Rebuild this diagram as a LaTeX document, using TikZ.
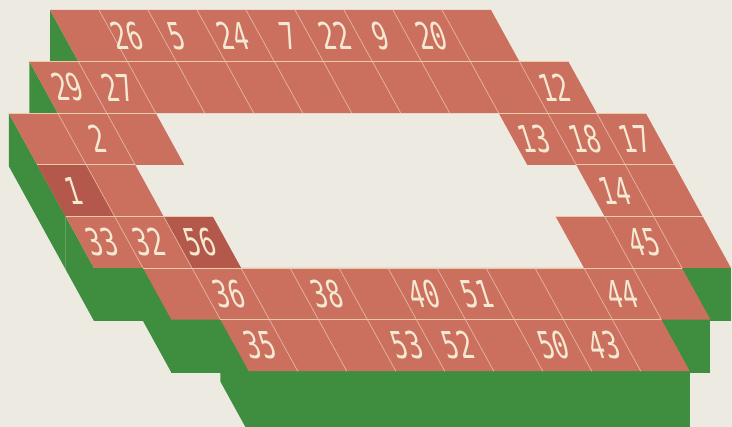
\documentclass[tikz,border=0pt]{standalone}
\usepackage{fontspec}
\newfontfamily\digitfont{DejaVu Sans Mono}
\definecolor{paper}{HTML}{EDEAE1}
\definecolor{tile}{HTML}{CB705F}
\definecolor{tiledark}{HTML}{B3584A}
\definecolor{grass}{HTML}{3F8D3F}
\definecolor{seamcol}{HTML}{E6B4A3}
\definecolor{edgecol}{HTML}{EDCBA6}
\definecolor{digitcol}{HTML}{F5E9D2}
% grid: x = 50 + 49*c + 28.4*r ; y = 10 + 51.6*r
\newcommand\segcoords[3]{%
  \pgfmathsetmacro\sxa{50+49*(#1)+28.4*(#3)}%
  \pgfmathsetmacro\sxb{50+49*((#2)+1)+28.4*(#3)}%
  \pgfmathsetmacro\sya{10+51.6*(#3)}%
  \pgfmathsetmacro\syb{10+51.6*((#3)+1)}%
}
\newcommand\leftface[3]{\segcoords{#1}{#1}{#2}%
  \fill[greenface] (\sxa,\sya) -- (\sxa+28.4,\syb) -- (\sxa+28.4,\syb+#3) -- (\sxa,\sya+#3) -- cycle;}
\newcommand\frontface[4]{\segcoords{#1}{#2}{#3}%
  \fill[greenface] (\sxa+28.4,\syb) rectangle (\sxb+28.4,\syb+#4);}
\newcommand\segtiles[4][tiletop]{\segcoords{#2}{#3}{#4}%
  \fill[#1] (\sxa,\sya) -- (\sxb,\sya) -- (\sxb+28.4,\syb) -- (\sxa+28.4,\syb) -- cycle;}
\newcommand\segseams[3]{\segcoords{#1}{#2}{#3}%
  \pgfmathtruncatemacro\sfirst{#1+1}%
  \foreach \cc in {\sfirst,...,#2}{\draw[seam] ({50+49*(\cc)+28.4*(#3)},\sya) -- ++(28.4,51.6);}}
\newcommand\segedge[3]{\segcoords{#1}{#2}{#3}%
  \draw[rowedge] (\sxa,\sya) -- (\sxb,\sya);}
\begin{document}
\begin{tikzpicture}[x=1pt,y=-1pt,
  tiletop/.style={fill=tile},
  tiledarktop/.style={fill=tiledark},
  greenface/.style={fill=grass},
  seam/.style={draw=seamcol, line width=0.7pt},
  rowedge/.style={draw=edgecol, line width=0.8pt},
  digits/.style={transform shape, xslant=-0.32, xscale=0.66, inner sep=0pt,
    text=digitcol, font=\digitfont\fontsize{37}{37}\selectfont}]
\useasboundingbox (0,0) rectangle (732,427);
\clip (0,0) rectangle (732,427);
\fill[paper] (0,0) rectangle (732,427);
% row 0
\leftface{0}{0}{53}
\segtiles{0}{8}{0}
% row 1
\leftface{-1}{1}{53}
\segtiles{-1}{9}{1}
% row 2
\leftface{-2}{2}{53}
\segtiles{-2}{0}{2}
\segtiles{8}{10}{2}
% row 3
\leftface{-2}{3}{53}
\segtiles{-2}{-1}{3}
\segtiles[tiledarktop]{-2}{-2}{3}
\segtiles{9}{10}{3}
% row 4
\leftface{-2}{4}{53}
\frontface{-2}{0}{4}{53}
\frontface{8}{10}{4}{53}
\segtiles{-2}{0}{4}
\segtiles[tiledarktop]{0}{0}{4}
\segtiles{8}{10}{4}
% row 5
\leftface{-1}{5}{53}
\frontface{-1}{9}{5}{53}
\segtiles{-1}{9}{5}
% row 6
\leftface{0}{6}{62}
\frontface{0}{8}{6}{62}
\segtiles{0}{8}{6}
% seams between tiles
\segseams{0}{8}{0}
\segseams{-1}{9}{1}
\segseams{-2}{0}{2}
\segseams{8}{10}{2}
\segseams{-2}{-1}{3}
\segseams{9}{10}{3}
\segseams{-2}{0}{4}
\segseams{8}{10}{4}
\segseams{-1}{9}{5}
\segseams{0}{8}{6}
% lines along the tops of the rows
\segedge{-1}{9}{1}
\segedge{-2}{0}{2}
\segedge{8}{10}{2}
\segedge{-2}{-1}{3}
\segedge{9}{10}{3}
\segedge{-2}{0}{4}
\segedge{8}{10}{4}
\segedge{-1}{9}{5}
\segedge{0}{8}{6}
% numbers
\foreach \t/\x/\y in {26/126.7/35.8, 5/176.7/35.8, 24/233.3/35.8, 7/289/35.8,
  22/335/35.8, 9/381/35.8, 20/431.5/35.8,
  29/67.5/87.4, 27/118.3/87.4, 12/554.5/87.4,
  2/97.5/139, 13/534.3/139, 18/585.2/139, 17/635.2/139,
  1/73.3/190.6, 14/615/190.6,
  33/101.7/242.2, 32/149/242.2, 56/200/242.2, 45/644.2/242.2,
  36/229/293.8, 38/326.7/293.8, 40/424/293.8, 51/476.8/293.8, 44/621.8/293.8,
  35/260/345.4, 53/406.8/345.4, 52/457.7/345.4, 50/553.5/345.4, 43/604.3/345.4}
  {\node[shift={(\x,\y)}, digits] (n\t) at (0,0) {\t};}
\end{tikzpicture}
\end{document}
